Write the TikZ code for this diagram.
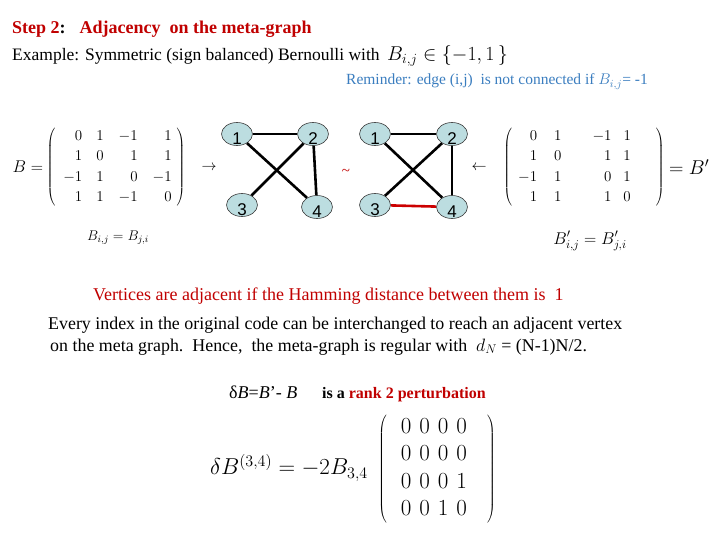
\RequirePackage{fix-cm}
\documentclass[tikz,border=0pt]{standalone}
\usepackage[no-math]{fontspec}
\setmainfont{Liberation Serif}
\newfontfamily\vertexfont{Liberation Sans}
\usetikzlibrary{shapes.geometric, positioning}
\definecolor{headred}{HTML}{C00000}
\definecolor{noteblue}{HTML}{3A7DBF}
\definecolor{vertexbg}{HTML}{BCDDE0}
\definecolor{vertexstroke}{HTML}{3A3A3A}
\definecolor{swapred}{HTML}{CC0000}
\renewcommand{\arraystretch}{1.1}

\begin{document}
\begin{tikzpicture}[
    x=1pt, y=-1pt,
    textline/.style={anchor=base west, inner sep=0pt, font=\fontsize{18}{21}\selectfont},
    heading/.style={anchor=base west, inner sep=0pt, text=headred, font=\bfseries\fontsize{18}{21}\selectfont},
    note/.style={anchor=base west, inner sep=0pt, text=noteblue, font=\fontsize{15.5}{18}\selectfont},
    mathbox/.style={inner sep=0pt, font=\fontsize{15}{18.5}\selectfont},
    vertex_num/.style={inner sep=0pt, yshift=-4.5pt, font=\vertexfont\fontsize{17}{17}\selectfont},
    vertex/.style={ellipse, draw=vertexstroke, fill=vertexbg, minimum width=31pt, minimum height=23pt, inner sep=0pt, line width=0.6pt, label={[vertex_num]center:#1}},
    edge/.style={line width=2.6pt, draw=black},
    swap_edge/.style={line width=2.6pt, draw=swapred}
]
\useasboundingbox (0,0) rectangle (720,540);

    % Heading and example
    \node[heading] (title) at (12,34) {Step 2{\color{black}:}\hspace{14pt}Adjacency\ \ on the meta-graph};
    \node[textline, font=\fontsize{17.5}{21}\selectfont] (example) at (12,61) {Example: Symmetric (sign balanced) Bernoulli with};
    \node[mathbox, anchor=base west, font=\fontsize{20}{23}\selectfont] (bern_set) at (387,61) {$B_{i,j}\in\{-1,1\,\}$};
    \node[note] (reminder) at (346,85) {Reminder: edge (i,j)\ \ is not connected\ if $B_{i,j}$= -1};

    % Original matrix B
    \node[mathbox] (mat_b) at (116,167) {$\left(\begin{array}{@{\hspace{8pt}}r@{\hspace{14pt}}r@{\hspace{15pt}}r@{\hspace{15pt}}r@{\hspace{5pt}}}
        0 & 1 & -1 & 1\\
        1 & 0 & 1 & 1\\
        -1 & 1 & 0 & -1\\
        1 & 1 & -1 & 0
    \end{array}\right)$};
    \node[mathbox, font=\fontsize{17}{20}\selectfont, left=3pt of mat_b] (b_eq) {$B=$};
    \node[mathbox, font=\fontsize{14}{17}\selectfont] (sym_b) at (118,238) {$B_{i,j}=B_{j,i}$};
    \node[mathbox] (to_graph) at (209,168) {$\rightarrow$};

    % Graph of B
    \node[vertex=1] (l1) at (237,134) {};
    \node[vertex=2] (l2) at (313,134) {};
    \node[vertex=3] (l3) at (242,205) {};
    \node[vertex=4] (l4) at (317,207) {};
    \draw[edge] (l1) -- (l2);
    \draw[edge] (l1) -- (l4);
    \draw[edge] (l2) -- (l3);
    \draw[edge] (l2) -- (l4);

    \node[text=headred, inner sep=0pt, font=\fontsize{15}{15}\selectfont] (equiv) at (346,172) {\textasciitilde};

    % Graph of B'
    \node[vertex=1] (r1) at (375,134) {};
    \node[vertex=2] (r2) at (452,134) {};
    \node[vertex=3] (r3) at (375,205) {};
    \node[vertex=4] (r4) at (452,207) {};
    \draw[edge] (r1) -- (r2);
    \draw[edge] (r1) -- (r4);
    \draw[edge] (r2) -- (r3);
    \draw[edge] (r2) -- (r4);
    \draw[swap_edge] (r3) -- (r4);

    % Swapped matrix B'
    \node[mathbox] (from_matrix) at (479,168) {$\leftarrow$};
    \node[mathbox] (mat_bp) at (584,167) {$\left(\begin{array}{@{\hspace{6pt}}r@{\hspace{17pt}}r@{\hspace{31pt}}r@{\hspace{12pt}}r@{\hspace{25pt}}}
        0 & 1 & -1 & 1\\
        1 & 0 & 1 & 1\\
        -1 & 1 & 0 & 1\\
        1 & 1 & 1 & 0
    \end{array}\right)$};
    \node[mathbox, font=\fontsize{20}{23}\selectfont, right=4pt of mat_bp] (bp_eq) {$=B'$};
    \node[mathbox, font=\fontsize{17}{20}\selectfont] (sym_bp) at (590,241) {$B'_{i,j}=B'_{j,i}$};

    % Statements
    \node[textline, text=headred] (hamming) at (93,300) {Vertices are adjacent if the Hamming distance between them is\ \ 1};
    \node[textline, font=\fontsize{17.9}{21}\selectfont] (index_a) at (48,329) {Every index in the original code can be interchanged to reach an adjacent vertex};
    \node[textline, font=\fontsize{17.9}{21}\selectfont] (index_b) at (50,351) {on the meta graph.\ \ Hence,\ \ the meta-graph is regular with\ \ $d_N$ = (N-1)N/2.};
    \node[textline, font=\fontsize{18}{21}\selectfont] (rank_lhs) at (229,398) {δ\textit{B}=\textit{B}’- \textit{B}};
    \node[textline, font=\bfseries\fontsize{16}{19}\selectfont] (rank_rhs) at (322,398) {is a \textcolor{headred}{rank 2 perturbation}};

    % Perturbation matrix
    \node[mathbox, font=\fontsize{23}{25}\selectfont] (delta_lhs) at (289,468) {$\delta B^{(3,4)}=-2B_{3,4}$};
    \node[mathbox, font=\fontsize{23}{25}\selectfont] (mat_delta) at (437,469) {$\left(\begin{array}{@{\hspace{14pt}}c@{\hspace{8pt}}c@{\hspace{8pt}}c@{\hspace{8pt}}c@{\hspace{20pt}}}
        0 & 0 & 0 & 0\\
        0 & 0 & 0 & 0\\
        0 & 0 & 0 & 1\\
        0 & 0 & 1 & 0
    \end{array}\right)$};

\end{tikzpicture}
\end{document}
